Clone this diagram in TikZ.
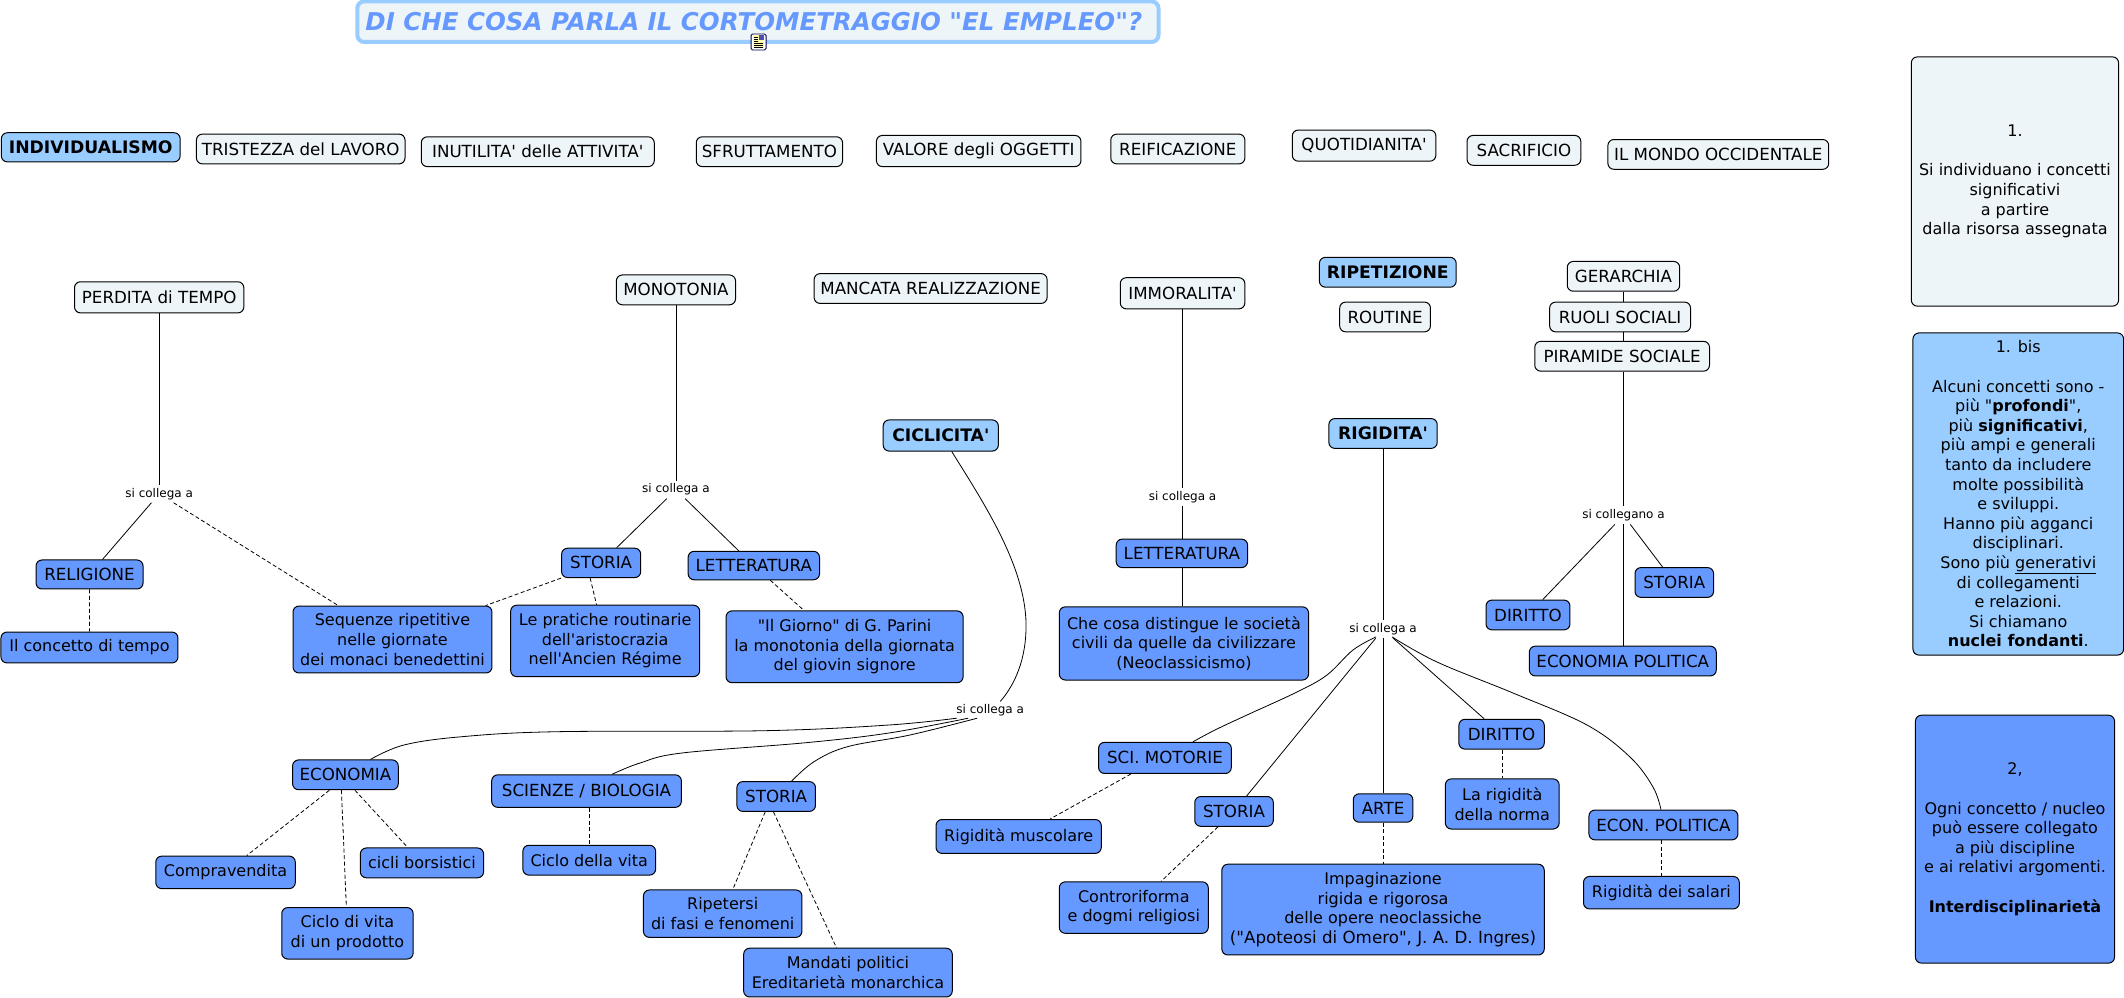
\documentclass[tikz,border=0pt]{standalone}
\usepackage{fontspec}
\newfontfamily\vf{DejaVu Sans}
\definecolor{pale}{HTML}{EEF5F8}
\definecolor{lblue}{HTML}{99CCFF}
\definecolor{mblue}{HTML}{6699FF}
\newcommand{\szU}{\fontsize{16.7}{19.6}\selectfont}
\newcommand{\szB}{\fontsize{17.2}{19.6}\selectfont\bfseries}
\tikzset{
 basebox/.style={draw=black,line width=1pt,rounded corners=6pt,inner sep=0pt,align=center,font=\vf\fontsize{16}{19.6}\selectfont,text=black},
 palebox/.style={basebox,fill=pale},
 keybox/.style={basebox,fill=lblue},
 midbox/.style={basebox,fill=mblue},
 linkname/.style={font=\vf\fontsize{12}{14}\selectfont,inner sep=3pt,text=black},
 conn/.style={draw=black,line width=0.8pt},
 dconn/.style={conn,dash pattern=on 4pt off 2.5pt},
 curve/.style={conn,smooth,tension=0.6},
}
\newcommand{\bx}[7]{\node[#2,minimum width={(#5-#3)*1.3546pt},minimum height={(#6-#4)*1.3546pt}] (#1) at ({(#3+#5)/2},{(#4+#6)/2}) {#7};}
\begin{document}
\begin{tikzpicture}[x=1.3546pt,y=-1.3546pt]
\useasboundingbox (0,0) rectangle (1568,736.75);
% title
\node[draw=lblue,line width=4pt,fill=pale,rounded corners=7pt,minimum width={591.5*1.3546pt},minimum height={30*1.3546pt},inner sep=0pt,text=mblue,font=\vf\fontsize{24.5}{28}\selectfont\bfseries\itshape] (title) at (559.5,16) {DI CHE COSA PARLA IL CORTOMETRAGGIO "EL EMPLEO"?\hspace*{8pt}};
% icon
\node[draw=black!70!blue,fill=white,line width=0.9pt,rounded corners=1.5pt,minimum width=15pt,minimum height=16pt,inner sep=0pt] (icon) at (560,31) {};
\fill[yellow!35] ([shift={(-5.5pt,-6.5pt)}]icon.center) rectangle ([shift={(5.5pt,6.5pt)}]icon.center);
\fill[blue!40!gray] ([shift={(0.5pt,1.5pt)}]icon.center) rectangle ([shift={(5.5pt,6.5pt)}]icon.center);
\foreach \yy in {5,3,1}{\draw[black,line width=0.7pt] ([shift={(-4.5pt,\yy pt)}]icon.center) -- ([shift={(-1pt,\yy pt)}]icon.center);}
\foreach \yy in {-1,-3,-5}{\draw[black,line width=0.7pt] ([shift={(-4.5pt,\yy pt)}]icon.center) -- ([shift={(4.5pt,\yy pt)}]icon.center);}
% top row
\bx{indiv}{keybox}{1}{98}{133}{119.5}{\szB INDIVIDUALISMO}
\bx{trist}{palebox}{145}{99}{299}{121}{\szU TRISTEZZA del LAVORO}
\bx{inut}{palebox}{311}{101}{483}{123}{\szU INUTILITA' delle ATTIVITA'}
\bx{sfrut}{palebox}{514}{101}{622}{123}{\szU SFRUTTAMENTO}
\bx{valore}{palebox}{647}{100}{798}{123}{\szU VALORE degli OGGETTI}
\bx{reif}{palebox}{820}{99}{919}{121}{\szU REIFICAZIONE}
\bx{quot}{palebox}{954}{96}{1060}{119}{\szU QUOTIDIANITA'}
\bx{sacr}{palebox}{1083}{100}{1167}{122}{\szU SACRIFICIO}
\bx{mondo}{palebox}{1187}{103}{1350}{125}{\szU IL MONDO OCCIDENTALE}
% second row
\bx{perd}{palebox}{55}{208}{180}{231}{\szU PERDITA di TEMPO}
\bx{mono}{palebox}{455}{203}{543}{225}{\szU MONOTONIA}
\bx{manc}{palebox}{601}{202}{773}{224}{\szU MANCATA REALIZZAZIONE}
\bx{immo}{palebox}{827}{205}{919}{228}{\szU IMMORALITA'}
\bx{ripe}{keybox}{974}{190}{1075}{212}{\szB RIPETIZIONE}
\bx{rout}{palebox}{989}{223}{1056}{245}{\szU ROUTINE}
\bx{gera}{palebox}{1157}{193}{1240}{215}{\szU GERARCHIA}
\bx{ruoli}{palebox}{1144}{223}{1248}{245}{\szU RUOLI SOCIALI}
\bx{pira}{palebox}{1133}{252}{1262}{274}{\szU PIRAMIDE SOCIALE}
\bx{cicl}{keybox}{652}{310}{737}{333}{\szB CICLICITA'}
\bx{rigi}{keybox}{981}{309}{1061}{331}{\szB RIGIDITA'}
% middle
\bx{reli}{midbox}{26.6}{413.4}{105.6}{434.8}{\szU RELIGIONE}
\bx{conc}{midbox}{0.7}{466.6}{131.4}{489.4}{Il concetto di tempo}
\bx{sequ}{midbox}{216.3}{447.4}{363.2}{496.8}{Sequenze ripetitive\\nelle giornate\\dei monaci benedettini}
\bx{stor1}{midbox}{414.6}{404.7}{473}{426.4}{\szU STORIA}
\bx{lett1}{midbox}{508}{407}{605}{428}{\szU LETTERATURA}
\bx{prat}{midbox}{377}{446.8}{516.5}{499.5}{Le pratiche routinarie\\dell'aristocrazia\\nell'Ancien Régime}
\bx{gior}{midbox}{536}{451}{711}{504}{"Il Giorno" di G. Parini\\la monotonia della giornata\\del giovin signore}
\bx{lett2}{midbox}{824}{398}{921}{419}{\szU LETTERATURA}
\bx{checo}{midbox}{782}{448}{966}{502}{Che cosa distingue le società\\civili da quelle da civilizzare\\(Neoclassicismo)}
\bx{dir1}{midbox}{1097}{443}{1159}{465}{\szU DIRITTO}
\bx{stor2}{midbox}{1207}{419}{1265}{441}{\szU STORIA}
\bx{ecop}{midbox}{1129}{477}{1267}{499}{\szU ECONOMIA POLITICA}
% lower
\bx{econ}{midbox}{216}{561}{294}{583}{\szU ECONOMIA}
\bx{scie}{midbox}{363}{572}{503}{596}{\szU SCIENZE / BIOLOGIA}
\bx{stor3}{midbox}{544}{577}{602}{599}{\szU STORIA}
\bx{scim}{midbox}{811}{548}{909}{571}{\szU SCI. MOTORIE}
\bx{dir2}{midbox}{1077}{531}{1140}{553}{\szU DIRITTO}
\bx{rmus}{midbox}{691}{605}{813}{630}{Rigidità muscolare}
\bx{stor4}{midbox}{882}{588}{940}{610}{\szU STORIA}
\bx{arte}{midbox}{999}{586}{1043}{607}{\szU ARTE}
\bx{rnor}{midbox}{1067}{575}{1151}{612}{La rigidità\\della norma}
\bx{epol}{midbox}{1173}{598}{1283}{620}{\szU ECON. POLITICA}
\bx{rsal}{midbox}{1169}{647}{1284}{671}{Rigidità dei salari}
\bx{comp}{midbox}{115}{632}{218}{656}{Compravendita}
\bx{cbor}{midbox}{266}{626}{357}{648}{cicli borsistici}
\bx{cvit}{midbox}{386}{624}{484}{646}{Ciclo della vita}
\bx{cvpr}{midbox}{208}{670}{305}{708}{Ciclo di vita\\di un prodotto}
\bx{ripf}{midbox}{475}{657}{592}{692}{Ripetersi\\di fasi e fenomeni}
\bx{mand}{midbox}{549}{700}{703}{736}{Mandati politici\\Ereditarietà monarchica}
\bx{cont}{midbox}{782}{651}{892}{689}{Controriforma\\e dogmi religiosi}
\bx{impa}{midbox}{902}{638}{1140}{705}{Impaginazione\\rigida e rigorosa\\delle opere neoclassiche\\{\szU ("Apoteosi di Omero", J. A. D. Ingres)}}
% right panels
\bx{n1}{palebox}{1411}{42}{1564}{226}{1.\\[19.6pt]Si individuano i concetti\\significativi\\a partire\\dalla risorsa assegnata}
\bx{n1b}{keybox}{1412.2}{245.8}{1567.7}{483.6}{1. bis\\[19.6pt]Alcuni concetti sono -\\più "{\bfseries profondi}",\\più {\bfseries significativi},\\più ampi e generali\\tanto da includere\\molte possibilità\\e sviluppi.\\Hanno più agganci\\disciplinari.\\Sono più \smash{\underline{generativi}}\\di collegamenti\\e relazioni.\\Si chiamano\\{\bfseries nuclei fondanti}.}
\bx{n2}{midbox}{1414}{528}{1561}{711}{2,\\[19.6pt]Ogni concetto / nucleo\\può essere collegato\\a più discipline\\e ai relativi argomenti.\\[19.6pt]{\bfseries Interdisciplinarietà}}
% link labels
\node[linkname] (l1) at (117.5,364.5) {si collega a};
\node[linkname] (l2) at (499,361.5) {si collega a};
\node[linkname] (l3) at (873,367) {si collega a};
\node[linkname] (l4) at (1198.5,380.5) {si collegano a};
\node[linkname] (l5) at (1021,464.5) {si collega a};
\node[linkname] (l6) at (731,524.5) {si collega a};
% connectors
\draw[conn] (perd) -- (l1);
\draw[conn] (l1) -- (reli);
\draw[dconn] (l1) -- (sequ);
\draw[dconn] (reli) -- (conc);
\draw[conn] (mono) -- (l2);
\draw[conn] (l2) -- (stor1);
\draw[conn] (l2) -- (lett1);
\draw[dconn] (stor1.south west) -- (sequ);
\draw[dconn] ([xshift=-11pt]stor1.south) -- (prat);
\draw[dconn] (lett1) -- (gior);
\draw[conn] (immo) -- (l3);
\draw[conn] (l3) -- (l3 |- lett2.north);
\draw[conn] (l3 |- lett2.south) -- (l3 |- checo.north);
\draw[conn] (l4 |- gera.south) -- (l4 |- ruoli.north);
\draw[conn] (l4 |- ruoli.south) -- (l4 |- pira.north);
\draw[conn] (l4 |- pira.south) -- (l4);
\draw[conn] (l4) -- (dir1);
\draw[conn] (l4) -- (stor2);
\draw[conn] (l4) -- (l4 |- ecop.north);
\draw[conn] (rigi) -- (l5);
\draw[conn] (l5) -- (stor4);
\draw[conn] (l5) -- (arte);
\draw[conn] (l5) -- (dir2);
% curved connectors (pixel coordinates of the page)
\coordinate (c1) at ([xshift=11pt]cicl.south);
\coordinate (c2) at ([xshift=10pt]l6.north);
\coordinate (e0) at ([xshift=-33.5pt,yshift=1.3pt]l6.south);
\coordinate (e1) at ([xshift=25pt]econ.north);
\coordinate (s0) at ([xshift=-22pt,yshift=1.3pt]l6.south);
\coordinate (s1) at ([xshift=25.5pt]scie.north);
\coordinate (t0) at ([xshift=-13pt,yshift=1.3pt]l6.south);
\coordinate (t1) at ([xshift=15.5pt]stor3.north);
\coordinate (m0) at ([xshift=-7pt,yshift=1.3pt]l5.south);
\coordinate (m1) at ([xshift=28pt]scim.north);
\coordinate (p0) at ([xshift=9pt,yshift=1.3pt]l5.south);
\coordinate (p1) at ([xshift=-2.5pt]epol.north);
\begin{scope}[x=1pt,y=-1pt]
\draw[conn] (c1) .. controls (985,505) and (1028,570) .. (1026,630) .. controls (1025,665) and (1012,688) .. (c2);
\draw[curve] plot coordinates {(e0) (889,725) (764.6,730.7) (557,731.7) (462,736.7) (404,745) (e1)};
\draw[curve] plot coordinates {(s0) (889,733) (806,742.7) (682,753) (640,763) (s1)};
\draw[curve] plot coordinates {(t0) (910,735) (847.5,746.7) (814,761.7) (t1)};
\draw[curve] plot coordinates {(m0) (1353,650) (1327,675) (1297,692) (1247,715) (1215,730) (m1)};
\draw[curve] plot coordinates {(p0) (1437,662) (1513,693) (1587,725) (1630,757) (1653,787) (p1)};
\end{scope}
% dashed lower
\draw[dconn] ([xshift=-16pt]econ.south) -- (comp);
\draw[dconn] ([xshift=9.5pt]econ.south) -- (cbor);
\draw[dconn] ([xshift=-4pt]econ.south) -- (cvpr);
\draw[dconn] (cvit |- scie.south) -- (cvit);
\draw[dconn] ([xshift=-11pt]stor3.south) -- (ripf);
\draw[dconn] ([xshift=-2.7pt]stor3.south) -- (mand);
\draw[dconn] ([xshift=-34pt]scim.south) -- (rmus);
\draw[dconn] (stor4) -- (cont);
\draw[dconn] (arte) -- (impa);
\draw[dconn] (rnor |- dir2.south) -- (rnor);
\draw[dconn] (rsal |- epol.south) -- (rsal);
\end{tikzpicture}
\end{document}
